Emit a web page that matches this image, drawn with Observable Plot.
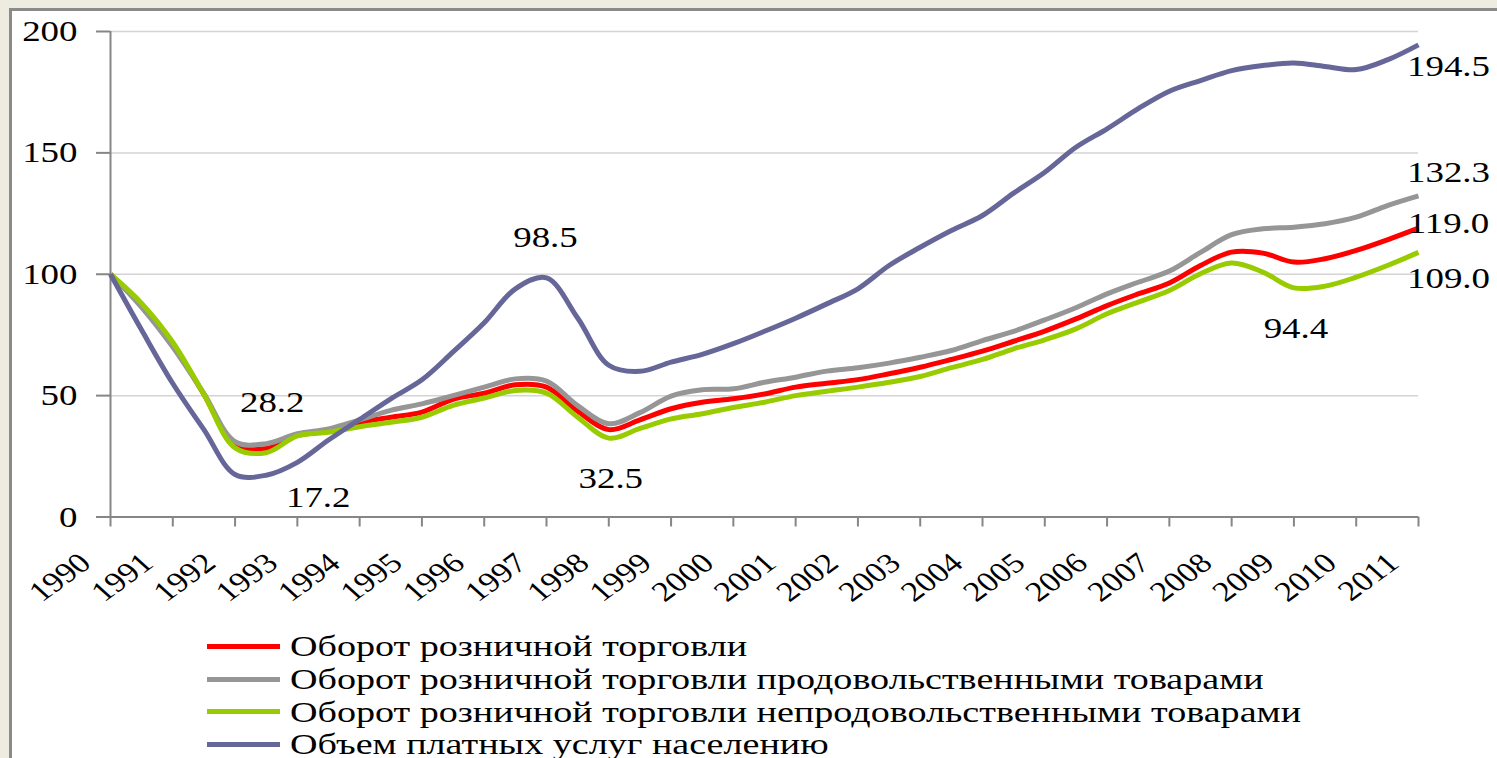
<!DOCTYPE html>
<html>
<head>
<meta charset="utf-8">
<script src="https://cdn.jsdelivr.net/npm/d3@7"></script>
<script src="https://cdn.jsdelivr.net/npm/@observablehq/plot@0.6"></script>
<style>
html, body { margin: 0; padding: 0; background: #EEECE1; width: 1497px; height: 758px; overflow: hidden;
  font-family: "Liberation Serif", "Times New Roman", serif; }
#frame { position: absolute; left: 9px; top: 8px; width: 1600px; height: 900px; border: 3px solid #8a8a8a; background: #fff; }
#chart { position: absolute; left: 0; top: 0; }
#legend { position: absolute; left: 207px; top: 630px; }
.row { display: flex; align-items: center; height: 32.8px; font-size: 30px; line-height: 32.8px; color: #000; white-space: nowrap; }
.sw { width: 73px; height: 5px; margin-right: 10px; flex: none; }
.row span { display: inline-block; transform: scaleX(1.27); transform-origin: 0 50%; }
</style>
</head>
<body>
<div id="frame"></div>
<div id="chart"></div>
<div id="legend"></div>
<script>
// ---- data (index, 1990 = 100), half-year points ----
const labelYears = [1990,1991,1992,1993,1994,1995,1996,1997,1998,1999,2000,2001,2002,2003,2004,2005,2006,2007,2008,2009,2010,2011];
const periods = labelYears.flatMap((y, i) => i < labelYears.length - 1 ? [y, y + 0.5] : [y]);

const seriesNames = [
  "Оборот розничной торговли",
  "Оборот розничной торговли продовольственными товарами",
  "Оборот розничной торговли непродовольственными товарами",
  "Объем платных услуг населению"
];

const retail = [100,87,71,50.5,29.5,28.2,33.6,35.3,38.9,41.1,43.2,48.5,51,54.5,53.5,43.6,36,40,44.6,47.3,48.7,50.7,53.5,55.1,56.6,59,61.7,64.9,68.3,72.4,76.6,81.6,87.1,91.9,96.4,103.6,109.1,108.7,105,106.4,109.8,114.2,119.0];
const food = [100,86.4,70,50.8,31,30.2,34.3,36.3,40,43.9,46.6,50,53.5,56.9,56,45.9,38.4,43,49.8,52.4,52.8,55.5,57.6,60.1,61.5,63.4,65.8,68.6,72.7,76.5,81.2,86.2,91.9,96.7,101.3,109,116.3,118.7,119.4,120.8,123.5,128.3,132.3];
const nonFood = [100,88,72,50.5,28.5,26.5,33.4,34.9,37.2,39,41.1,46,49,52.1,51,41.1,32.5,36.5,40.4,42.5,45.1,47.3,50,51.8,53.5,55.5,57.9,61.5,64.9,69.3,73,77.5,83.7,88.5,93.3,100.2,104.6,100.9,94.4,95.1,98.8,103.6,109.0];
const services = [100,77,55,36,17.5,17.2,22.5,31.7,40.2,48.7,56.5,68,80,94,98.5,82,62.5,60,63.8,67,71.4,76.5,81.9,87.8,94,103.6,111.1,118,124.2,133.4,142,152.3,159.9,168.2,175.4,179.8,183.9,186,187,185.6,184.3,188.3,194.5];

const yTicks = [0, 50, 100, 150, 200];
const colors = ["#FF0000", "#969696", "#99CC00", "#666699"];

// annotated points: [series index, period]
const annotated = [
  [0, 1992.5], [3, 1992.5], [3, 1997], [2, 1998], [2, 2009],
  [3, 2011], [1, 2011], [0, 2011], [2, 2011]
];

// ---- build table ----
const allSeries = [retail, food, nonFood, services];
const rows = [];
allSeries.forEach((vals, s) => vals.forEach((v, i) => rows.push({period: periods[i], value: v, series: seriesNames[s]})));

const labelRows = annotated.map(([s, p]) => {
  const i = periods.indexOf(p);
  return {period: p, value: allSeries[s][i], text: allSeries[s][i].toFixed(1)};
});
// label offsets (pixels) relative to their points
const offsets = [[6,-46],[52,22],[-1,-40],[2,40],[2,41],[30,22],[30,-23],[30,-5],[30,26]];

const font = "Liberation Serif";
const labelMarks = labelRows.map((d, k) => Plot.text([d], {
  x: "period", y: "value", text: "text", dx: offsets[k][0], dy: offsets[k][1],
  fontSize: 30, fontFamily: font, fill: "black", textAnchor: "middle", lineAnchor: "middle"
}));

const chart = Plot.plot({
  width: 1497,
  height: 620,
  marginLeft: 110,
  marginRight: 79,
  marginTop: 31,
  marginBottom: 103.5,
  style: "background: transparent; font-family: 'Liberation Serif', serif; overflow: visible;",
  x: {type: "linear", domain: [1990, 2011], axis: null},
  y: {domain: [0, 200], axis: null},
  color: {domain: seriesNames, range: colors},
  marks: [
    Plot.gridY(yTicks.slice(1), {stroke: "#d4d4d4", strokeOpacity: 1, strokeWidth: 1.5}),
    Plot.axisY({ticks: yTicks, tickSize: 14, tickPadding: 19, stroke: "#868686", strokeWidth: 2,
      fill: "black", fontSize: 30, fontFamily: font, label: null}),
    Plot.ruleX([1990], {stroke: "#868686", strokeWidth: 2}),
    Plot.axisX({ticks: labelYears, tickSize: 10, tickFormat: () => "", stroke: "#868686", strokeWidth: 2, label: null}),
    Plot.ruleY([0], {stroke: "#868686", strokeWidth: 2}),
    Plot.text(labelYears, {x: d => d, y: 0, text: d => String(d), rotate: -42, textAnchor: "end", lineAnchor: "top",
      dx: -34, dy: 33.5, fontSize: 28, fontFamily: font, fill: "black"}),
    Plot.line(rows, {x: "period", y: "value", z: "series", stroke: "series", strokeWidth: 5,
      curve: "catmull-rom", strokeLinejoin: "round", strokeLinecap: "butt"}),
    ...labelMarks
  ]
});

// stretch texts horizontally about their anchors (the reference type is wide)
const S = 1.23;
chart.querySelectorAll("text").forEach(t => {
  const tr = t.getAttribute("transform");
  if (tr && /^translate\(/.test(tr)) {
    t.setAttribute("transform", tr.replace(/^(translate\([^)]*\))/, `$1 scale(${S},1)`));
  } else {
    const x = +(t.getAttribute("x") || 0), y = +(t.getAttribute("y") || 0);
    t.setAttribute("transform", `translate(${x},${y}) scale(${S},1) translate(${-x},${-y})`);
  }
});
document.getElementById("chart").appendChild(chart);

// ---- legend ----
const legend = document.getElementById("legend");
seriesNames.forEach((name, i) => {
  const row = document.createElement("div");
  row.className = "row";
  const sw = document.createElement("div");
  sw.className = "sw";
  sw.style.background = colors[i];
  const t = document.createElement("span");
  t.textContent = name;
  row.appendChild(sw);
  row.appendChild(t);
  legend.appendChild(row);
});
</script>
</body>
</html>
